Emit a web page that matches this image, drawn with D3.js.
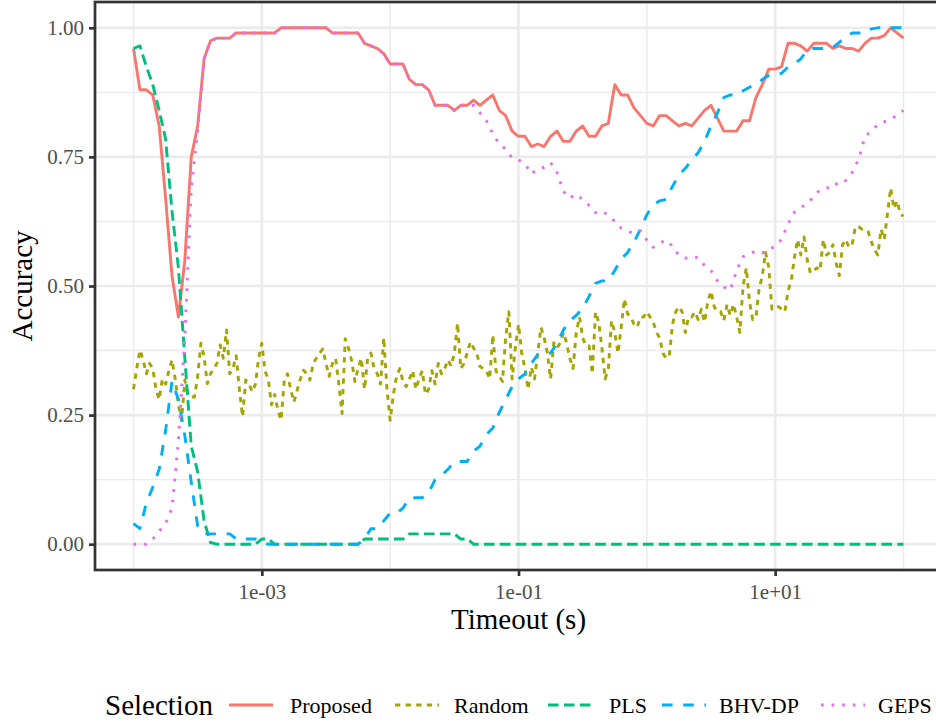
<!DOCTYPE html>
<html><head><meta charset="utf-8">
<script src="https://cdn.jsdelivr.net/npm/d3@7"></script>
<style>body{margin:0;background:#fff;} svg{display:block;}</style>
</head><body>
<svg id="chart" width="936" height="722"></svg>
<script>
// x values: timeouts evenly spaced in log10 from 1e-4 to 1e+2
const timeouts = d3.range(121).map(i => Math.pow(10, -4 + i * 0.05));
// Random is sampled on a finer grid (step 0.025 decade)
const timeoutsFine = d3.range(241).map(i => Math.pow(10, -4 + i * 0.025));

const proposed = [0.96,0.88,0.88,0.87,0.81,0.67,0.52,0.44,0.55,0.75,
0.81,0.94,0.975,0.98,0.98,0.98,0.99,0.99,0.99,0.99,
0.99,0.99,0.99,1.00,1.00,1.00,1.00,1.00,1.00,1.00,
1.00,0.99,0.99,0.99,0.99,0.99,0.97,0.965,0.96,0.95,
0.93,0.93,0.93,0.90,0.89,0.89,0.88,0.85,0.85,0.85,
0.84,0.85,0.85,0.86,0.85,0.86,0.87,0.84,0.83,0.80,
0.79,0.79,0.77,0.775,0.77,0.79,0.80,0.78,0.78,0.80,
0.81,0.79,0.79,0.81,0.815,0.89,0.87,0.87,0.845,0.83,
0.815,0.81,0.83,0.83,0.82,0.81,0.815,0.81,0.825,0.84,
0.85,0.825,0.80,0.80,0.80,0.82,0.82,0.865,0.89,0.92,
0.92,0.925,0.97,0.97,0.965,0.955,0.97,0.97,0.97,0.96,
0.965,0.96,0.96,0.955,0.97,0.98,0.98,0.985,1.00,0.99,
0.98];

const random = [0.30,0.34,0.376,0.357,0.33,0.35,0.34,0.30,0.28,0.32,
0.31,0.335,0.357,0.32,0.27,0.24,0.318,0.29,0.285,0.285,
0.325,0.389,0.363,0.311,0.33,0.34,0.35,0.386,0.36,0.415,
0.33,0.34,0.365,0.30,0.247,0.318,0.31,0.295,0.31,0.36,
0.389,0.335,0.32,0.27,0.29,0.26,0.24,0.318,0.33,0.30,
0.275,0.298,0.32,0.337,0.33,0.318,0.35,0.36,0.37,0.378,
0.35,0.325,0.35,0.36,0.31,0.253,0.398,0.38,0.355,0.315,
0.34,0.36,0.30,0.36,0.37,0.34,0.33,0.31,0.40,0.30,
0.24,0.29,0.325,0.34,0.315,0.305,0.32,0.336,0.30,0.32,
0.336,0.29,0.30,0.336,0.31,0.35,0.33,0.34,0.357,0.345,
0.37,0.428,0.34,0.35,0.37,0.392,0.38,0.37,0.344,0.34,
0.336,0.32,0.405,0.335,0.325,0.315,0.40,0.45,0.32,0.38,
0.426,0.37,0.34,0.30,0.343,0.32,0.37,0.42,0.40,0.37,
0.32,0.39,0.38,0.39,0.41,0.39,0.36,0.34,0.41,0.44,
0.40,0.384,0.384,0.33,0.45,0.43,0.38,0.32,0.34,0.433,
0.41,0.37,0.42,0.475,0.446,0.44,0.426,0.42,0.44,0.44,
0.45,0.44,0.43,0.41,0.40,0.37,0.36,0.365,0.426,0.45,
0.46,0.45,0.41,0.44,0.44,0.45,0.435,0.455,0.43,0.47,
0.49,0.46,0.45,0.45,0.433,0.464,0.443,0.465,0.44,0.41,
0.50,0.535,0.47,0.435,0.44,0.495,0.52,0.565,0.536,0.455,
0.46,0.46,0.455,0.45,0.49,0.51,0.555,0.59,0.56,0.595,
0.55,0.525,0.53,0.535,0.53,0.59,0.56,0.565,0.58,0.545,
0.52,0.58,0.59,0.575,0.58,0.615,0.615,0.61,0.61,0.605,
0.585,0.57,0.56,0.61,0.59,0.64,0.69,0.65,0.665,0.64,
0.635];

const pls = [0.96,0.965,0.925,0.89,0.84,0.785,0.645,0.535,0.36,0.19,
0.14,0.045,0.003,0,0,0,0,0,0,0,
0.01,0.01,0,0,0,0,0,0,0,0,
0,0,0,0,0,0,0.01,0.01,0.01,0.01,
0.01,0.01,0.01,0.02,0.02,0.02,0.02,0.02,0.02,0.02,
0.02,0.01,0.01,0,0,0,0,0,0,0,
0,0,0,0,0,0,0,0,0,0,
0,0,0,0,0,0,0,0,0,0,
0,0,0,0,0,0,0,0,0,0,
0,0,0,0,0,0,0,0,0,0,
0,0,0,0,0,0,0,0,0,0,
0,0,0,0,0,0,0,0,0,0,
0];

const bhvdp = [0.04,0.03,0.08,0.11,0.145,0.22,0.315,0.28,0.21,0.12,
0.035,0.02,0.02,0.02,0.02,0.02,0.01,0.01,0.01,0.01,
0.005,0,0,0,0,0,0,0,0,0,
0,0,0,0,0,0,0.01,0.03,0.03,0.045,
0.06,0.06,0.07,0.09,0.09,0.09,0.10,0.125,0.133,0.145,
0.16,0.16,0.16,0.18,0.19,0.212,0.225,0.255,0.28,0.305,
0.32,0.33,0.35,0.367,0.37,0.37,0.389,0.415,0.433,0.443,
0.457,0.48,0.505,0.51,0.51,0.53,0.552,0.565,0.585,0.61,
0.638,0.657,0.665,0.668,0.693,0.715,0.728,0.744,0.758,0.78,
0.81,0.835,0.865,0.87,0.87,0.878,0.885,0.89,0.90,0.908,
0.909,0.912,0.924,0.93,0.94,0.957,0.96,0.96,0.96,0.962,
0.972,0.982,0.99,0.99,0.99,0.998,1.00,1.00,1.00,1.00,
1.00];

const geps = [0,0,0,0.01,0.025,0.04,0.07,0.20,0.40,0.69,
0.80,0.94,0.975,0.98,0.98,0.98,0.99,0.99,0.99,0.99,
0.99,0.99,0.99,1.00,1.00,1.00,1.00,1.00,1.00,1.00,
1.00,0.99,0.99,0.99,0.99,0.99,0.97,0.965,0.96,0.95,
0.93,0.93,0.93,0.90,0.89,0.89,0.88,0.85,0.85,0.85,
0.84,0.85,0.85,0.85,0.835,0.82,0.795,0.775,0.765,0.748,
0.744,0.737,0.717,0.727,0.73,0.739,0.72,0.683,0.67,0.678,
0.667,0.656,0.642,0.645,0.637,0.625,0.612,0.606,0.602,0.607,
0.589,0.575,0.583,0.589,0.577,0.559,0.554,0.557,0.555,0.54,
0.53,0.51,0.498,0.492,0.53,0.557,0.562,0.568,0.564,0.569,
0.578,0.59,0.62,0.643,0.652,0.66,0.672,0.687,0.69,0.69,
0.704,0.704,0.72,0.745,0.79,0.80,0.813,0.818,0.822,0.832,
0.84];

const seriesNames = ["Proposed", "Random", "PLS", "BHV-DP", "GEPS"];
const seriesValues = [proposed, random, pls, bhvdp, geps];
const seriesX = [timeouts, timeoutsFine, timeouts, timeouts, timeouts];
const seriesColors = ["#F8766D", "#A3A500", "#00BF7D", "#00B0F6", "#E76BF3"];
const seriesDash = [null, [2, 2], [4, 2], [4, 4], [1, 3]];

const xTicks = [1e-3, 1e-1, 1e1];
const xTickLabels = ["1e-03", "1e-01", "1e+01"];
const xMinor = [1e-4, 1e-2, 1e0, 1e2];
const yTicks = [0, 0.25, 0.5, 0.75, 1];
const yTickLabels = ["0.00", "0.25", "0.50", "0.75", "1.00"];
const yMinor = [0.125, 0.375, 0.625, 0.875];

(function () {
const FONT = "'Liberation Serif', 'Times New Roman', serif";
const LW = 2.9;     // line width
const DU = 2.65;    // dash unit
const pLeft = 95, pRight = 942, pTop = 2, pBottom = 570;

const svg = d3.select("#chart");
svg.append("rect").attr("width", 936).attr("height", 722).attr("fill", "#fff");

const x = d3.scaleLog().domain([Math.pow(10, -4.3), Math.pow(10, 2.3)]).range([pLeft, pRight]);
const y = d3.scaleLinear().domain([-0.05, 1.05]).range([pBottom, pTop]);

// grid
const grid = svg.append("g");
grid.selectAll(".ymin").data(yMinor).join("line")
  .attr("x1", pLeft).attr("x2", pRight).attr("y1", d => y(d)).attr("y2", d => y(d))
  .attr("stroke", "#EBEBEB").attr("stroke-width", 1.4);
grid.selectAll(".xmin").data(xMinor).join("line")
  .attr("y1", pTop).attr("y2", pBottom).attr("x1", d => x(d)).attr("x2", d => x(d))
  .attr("stroke", "#EBEBEB").attr("stroke-width", 1.4);
grid.selectAll(".ymaj").data(yTicks).join("line")
  .attr("x1", pLeft).attr("x2", pRight).attr("y1", d => y(d)).attr("y2", d => y(d))
  .attr("stroke", "#EBEBEB").attr("stroke-width", 2.7);
grid.selectAll(".xmaj").data(xTicks).join("line")
  .attr("y1", pTop).attr("y2", pBottom).attr("x1", d => x(d)).attr("x2", d => x(d))
  .attr("stroke", "#EBEBEB").attr("stroke-width", 2.7);

// clip
svg.append("defs").append("clipPath").attr("id", "clip")
  .append("rect").attr("x", pLeft).attr("y", pTop).attr("width", pRight - pLeft).attr("height", pBottom - pTop);

const line = d3.line().x(d => x(d[0])).y(d => y(d[1]));
const plot = svg.append("g").attr("clip-path", "url(#clip)");
seriesValues.forEach((vals, i) => {
  const xs = seriesX[i];
  const pts = xs.map((t, j) => [t, vals[j]]);
  plot.append("path").datum(pts)
    .attr("d", line)
    .attr("fill", "none")
    .attr("stroke", seriesColors[i])
    .attr("stroke-width", LW)
    .attr("stroke-linejoin", "round")
    .attr("stroke-linecap", "butt")
    .attr("stroke-dasharray", seriesDash[i] ? seriesDash[i].map(v => v * DU).join(",") : null);
});

// border
svg.append("rect").attr("x", pLeft).attr("y", pTop).attr("width", pRight - pLeft).attr("height", pBottom - pTop)
  .attr("fill", "none").attr("stroke", "#333333").attr("stroke-width", 2.7);

// axes
const xAxis = svg.append("g").attr("transform", `translate(0,${pBottom})`)
  .call(d3.axisBottom(x).tickValues(xTicks).tickFormat((d, i) => xTickLabels[i]).tickSize(6).tickPadding(4));
const yAxis = svg.append("g").attr("transform", `translate(${pLeft},0)`)
  .call(d3.axisLeft(y).tickValues(yTicks).tickFormat((d, i) => yTickLabels[i]).tickSize(6).tickPadding(5));
[xAxis, yAxis].forEach(a => {
  a.select(".domain").remove();
  a.selectAll(".tick line").attr("stroke", "#333333").attr("stroke-width", 2.7);
  a.selectAll(".tick text").attr("fill", "#4D4D4D").style("font-family", FONT).style("font-size", "21px");
});
xAxis.selectAll(".tick text").attr("dy", "0.9em");

// axis titles
svg.append("text").attr("x", (pLeft + pRight) / 2).attr("y", 629).attr("text-anchor", "middle")
  .style("font-family", FONT).style("font-size", "29px").attr("fill", "#000").text("Timeout (s)");
svg.append("text").attr("transform", `translate(32,${(pTop + pBottom) / 2}) rotate(-90)`).attr("text-anchor", "middle")
  .style("font-family", FONT).style("font-size", "29px").attr("fill", "#000").text("Accuracy");

// legend
const ly = 705;
const keyX = [229, 395, 548, 662, 821];
const labelX = [290, 454, 609, 719, 878];
const legend = svg.append("g");
legend.append("text").attr("x", 105).attr("y", ly + 10)
  .style("font-family", FONT).style("font-size", "29px").attr("fill", "#000").text("Selection");
seriesNames.forEach((name, i) => {
  legend.append("line").attr("x1", keyX[i]).attr("x2", keyX[i] + 44).attr("y1", ly).attr("y2", ly)
    .attr("stroke", seriesColors[i]).attr("stroke-width", LW).attr("stroke-linecap", "butt")
    .attr("stroke-dasharray", seriesDash[i] ? seriesDash[i].map(v => v * DU).join(",") : null);
  legend.append("text").attr("x", labelX[i]).attr("y", ly + 8)
    .style("font-family", FONT).style("font-size", "22px").attr("fill", "#000").text(name);
});
})();
</script>
</body></html>
